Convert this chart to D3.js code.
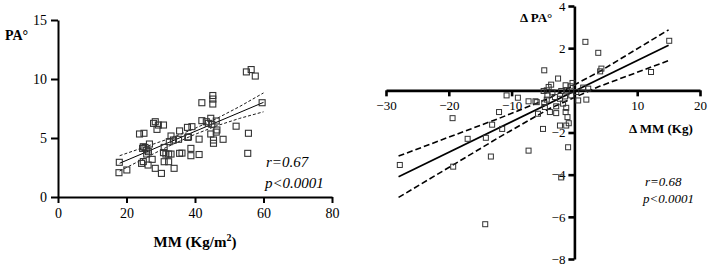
<!DOCTYPE html>
<html>
<head>
<meta charset="utf-8">
<script src="https://cdn.jsdelivr.net/npm/d3@7"></script>
<style>
    body { margin: 0; background: #fff; }
    svg { display: block; font-family: "Liberation Serif", "DejaVu Serif", serif; }
    .axis path, .axis line { stroke: #000; }
    .axis text { fill: #000; }
    .marker { fill: none; stroke: #333; }
    .fit { fill: none; stroke: #000; }
</style>
</head>
<body>
<div id="chart"></div>
<script>
// ---- left panel: MM vs PA ----
const leftMM = [17.8, 17.9, 20.1, 23.8, 25.1, 24.4, 24.9, 26.3, 24.7, 25.4, 26.7, 26.4, 25.9, 27.5, 28.4, 30.2,
    31.0, 32.3, 31.5, 33.0, 33.9, 31.0, 32.5, 33.0, 33.7, 35.2, 35.5, 38.8, 38.8, 41.2, 41.2, 38.1,
    45.4, 45.4, 48.2, 44.6, 46.2, 55.4, 55.6, 28.4, 27.9, 29.3, 30.8, 28.9, 35.5, 37.8, 24.9, 25.9,
    30.8, 55.0, 56.4, 57.6, 45.2, 45.2, 45.2, 42.0, 59.6, 42.0, 43.3, 44.6, 46.2, 43.9, 46.4, 52.0,
    39.1, 37.9, 44.9, 36.2, 32.3];
const leftPA = [2.06, 2.94, 2.29, 5.34, 5.40, 2.85, 3.00, 2.71, 4.12, 4.20, 4.49, 3.84, 3.64, 3.19, 2.43, 2.00,
    2.99, 2.99, 3.64, 3.64, 2.43, 4.20, 4.69, 5.17, 4.83, 4.89, 3.70, 4.12, 3.50, 3.60, 4.90, 5.10,
    4.55, 4.83, 4.89, 5.34, 5.50, 3.70, 5.40, 6.38, 6.24, 6.10, 6.10, 5.73, 5.60, 5.90, 4.26, 3.98,
    3.76, 10.6, 10.8, 10.25, 8.60, 8.30, 7.88, 7.99, 7.99, 6.47, 6.38, 6.67, 6.44, 6.24, 5.68, 6.00,
    5.96, 5.05, 6.16, 3.72, 3.64];
const leftXTicks = [0, 20, 40, 60, 80];
const leftYTicks = [0, 5, 10, 15];
const leftFitX = [18, 60];
const leftFitY = [2.86, 8.02];
const leftBandX = [18, 25, 32, 39, 46, 53, 60];
const leftBandUpper = [3.50, 4.20, 4.90, 5.69, 6.60, 7.66, 8.82];
const leftBandLower = [2.20, 3.24, 4.26, 5.19, 6.00, 6.66, 7.22];

// ---- right panel: delta MM vs delta PA ----
const rightDMM = [-4.8, -10.8, -9.0, -7.3, -6.2, -12.0, -19.4, -4.9, -4.3, -4.8, -13.1, -11.5, -5.0, -5.8, -17.0,
    -14.1, -27.8, -13.3, -19.3, -7.3, -14.2, -1.0, -2.1, 1.75, 3.8, 4.3, 4.1, 12.2, 15.1, 1.9, -2.3,
    -1.3, -2.6, -3.7, -4.1, -1.4, -0.3, -0.6, -4.4, -3.5, -2.1, -1.2, 0.3, 1.4, 2.2, -6.0, -4.4,
    -3.1, -2.3, -1.5, -0.5, 0.6, -4.7, -2.9, -1.8, -1.3, -3.9, -2.9, -1.4, -1.1, -0.9];
const rightDPA = [0.95, -0.24, -0.35, -0.52, -0.52, -1.03, -1.32, -0.03, -0.24, -0.60, -1.63, -1.83, -1.83, -1.11, -2.30,
    -2.25, -3.54, -3.14, -3.62, -2.86, -6.35, -2.70, -4.13, 2.30, 1.78, 1.03, 0.90, 0.87, 2.35, -0.44, -1.67,
    -1.67, 0.56, 0.27, 0.16, 0.24, 0.35, 0.19, 0.00, -0.10, -0.03, 0.00, -0.08, 0.13, 0.08, -0.56, -0.44,
    -0.32, -0.40, -0.29, -0.24, -0.48, -0.79, -0.76, -0.63, -0.83, -1.03, -1.08, -1.03, -1.27, -1.56];
const rightXTicks = [-30, -20, -10, 10, 20];
const rightYTicks = [-8, -6, -4, -2, 2, 4];
const rightFitX = [-28, 15];
const rightFitY = [-4.10, 2.14];
const rightBandX = [-28, -20, -12, -4, 4, 15];
const rightBandUpper = [-3.12, -2.22, -1.33, -0.37, 0.89, 2.87];
const rightBandLower = [-5.08, -3.66, -2.23, -0.87, 0.19, 1.41];

const FONT = '"Liberation Serif", "DejaVu Serif", serif';

const svg = d3.select('#chart').append('svg')
    .attr('width', 708)
    .attr('height', 267);

function zip(xs, ys) {
    return xs.map((x, i) => ({x: x, y: ys[i]}));
}

// left panel
let lx = d3.scaleLinear().domain([0, 80]).range([58, 332]);
let ly = d3.scaleLinear().domain([0, 15]).range([197, 20]);

let left = svg.append('g');

left.append('g')
    .attr('class', 'axis')
    .attr('transform', `translate(0, ${ly(0)})`)
    .call(d3.axisBottom(lx).tickValues(leftXTicks).tickSize(6).tickPadding(5).tickSizeOuter(0))
    .attr('font-family', FONT)
    .call(g => g.selectAll('path, line').attr('stroke-width', 2))
    .call(g => g.selectAll('text').attr('font-size', 14));

left.append('g')
    .attr('class', 'axis')
    .attr('transform', `translate(${lx(0)}, 0)`)
    .call(d3.axisLeft(ly).tickValues(leftYTicks).tickSize(7).tickPadding(4).tickSizeOuter(0))
    .attr('font-family', FONT)
    .call(g => g.selectAll('path, line').attr('stroke-width', 2))
    .call(g => g.selectAll('text').attr('font-size', 14));

let lline = d3.line().x(d => lx(d.x)).y(d => ly(d.y));

left.append('path')
    .attr('class', 'fit')
    .attr('stroke-width', 0.9)
    .attr('stroke-dasharray', '3,2')
    .attr('d', lline(zip(leftBandX, leftBandUpper)));
left.append('path')
    .attr('class', 'fit')
    .attr('stroke-width', 0.9)
    .attr('stroke-dasharray', '3,2')
    .attr('d', lline(zip(leftBandX, leftBandLower)));
left.append('path')
    .attr('class', 'fit')
    .attr('stroke-width', 1)
    .attr('d', lline(zip(leftFitX, leftFitY)));

left.selectAll('rect.marker')
    .data(zip(leftMM, leftPA))
    .join('rect')
    .attr('class', 'marker')
    .attr('stroke-width', 1.1)
    .attr('x', d => lx(d.x) - 3)
    .attr('y', d => ly(d.y) - 3)
    .attr('width', 6)
    .attr('height', 6);

left.append('text')
    .attr('x', 5).attr('y', 40)
    .attr('font-size', 14).attr('font-weight', 'bold')
    .text('PA°');

let mmLabel = left.append('text')
    .attr('x', 195).attr('y', 247)
    .attr('text-anchor', 'middle')
    .attr('font-size', 15).attr('font-weight', 'bold');
mmLabel.append('tspan').text('MM (Kg/m');
mmLabel.append('tspan').attr('font-size', 10).attr('dy', -6).text('2');
mmLabel.append('tspan').attr('dy', 6).text(')');

left.append('text')
    .attr('x', 266).attr('y', 167)
    .attr('font-size', 15).attr('font-style', 'italic')
    .text('r=0.67');
left.append('text')
    .attr('x', 265).attr('y', 188)
    .attr('font-size', 15).attr('font-style', 'italic')
    .text('p<0.0001');

// right panel
let rx = d3.scaleLinear().domain([-30, 20]).range([386, 700]);
let ry = d3.scaleLinear().domain([-8, 4]).range([259, 6]);

let right = svg.append('g');

right.append('g')
    .attr('class', 'axis')
    .attr('transform', `translate(0, ${ry(0)})`)
    .call(d3.axisBottom(rx).tickValues(rightXTicks).tickSize(6).tickPadding(4).tickSizeOuter(0))
    .attr('font-family', FONT)
    .call(g => g.selectAll('path, line').attr('stroke-width', 2.6))
    .call(g => g.selectAll('text').attr('font-size', 13));

right.append('g')
    .attr('class', 'axis')
    .attr('transform', `translate(${rx(0)}, 0)`)
    .call(d3.axisLeft(ry).tickValues(rightYTicks).tickSize(6).tickPadding(3).tickSizeOuter(0))
    .attr('font-family', FONT)
    .call(g => g.selectAll('path, line').attr('stroke-width', 2.6))
    .call(g => g.selectAll('text').attr('font-size', 13));

let rline = d3.line().x(d => rx(d.x)).y(d => ry(d.y));

right.append('path')
    .attr('class', 'fit')
    .attr('stroke-width', 1.6)
    .attr('stroke-dasharray', '6,3')
    .attr('d', rline(zip(rightBandX, rightBandUpper)));
right.append('path')
    .attr('class', 'fit')
    .attr('stroke-width', 1.6)
    .attr('stroke-dasharray', '6,3')
    .attr('d', rline(zip(rightBandX, rightBandLower)));
right.append('path')
    .attr('class', 'fit')
    .attr('stroke-width', 1.7)
    .attr('d', rline(zip(rightFitX, rightFitY)));

right.selectAll('rect.marker')
    .data(zip(rightDMM, rightDPA))
    .join('rect')
    .attr('class', 'marker')
    .attr('stroke-width', 1)
    .attr('x', d => rx(d.x) - 2.5)
    .attr('y', d => ry(d.y) - 2.5)
    .attr('width', 5)
    .attr('height', 5);

right.append('text')
    .attr('x', 520).attr('y', 22)
    .attr('font-size', 13).attr('font-weight', 'bold')
    .text('Δ PA°');

right.append('text')
    .attr('x', 629).attr('y', 133)
    .attr('font-size', 13).attr('font-weight', 'bold')
    .text('Δ MM (Kg)');

right.append('text')
    .attr('x', 645).attr('y', 186)
    .attr('font-size', 13).attr('font-style', 'italic')
    .text('r=0.68');
right.append('text')
    .attr('x', 643).attr('y', 203)
    .attr('font-size', 13).attr('font-style', 'italic')
    .text('p<0.0001');
</script>
</body>
</html>
